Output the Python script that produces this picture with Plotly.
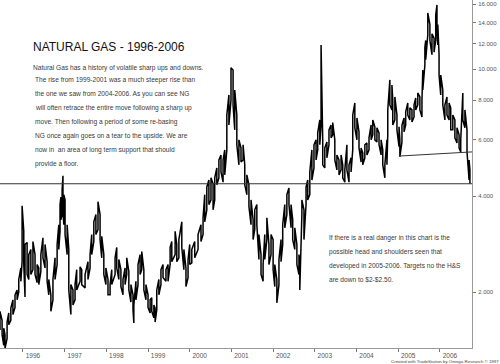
import plotly.graph_objects as go

# ---- data (decimal year, bar low, bar high) ----
YEARS = [1995.45, 1995.50, 1995.54, 1995.57, 1995.62, 1995.66, 1995.71, 1995.76, 1995.81, 1995.86,
         1995.90, 1995.95, 1995.98, 1996.02, 1996.05, 1996.10, 1996.14, 1996.19, 1996.24, 1996.29,
         1996.34, 1996.38, 1996.43, 1996.48, 1996.53, 1996.58, 1996.62, 1996.67, 1996.72, 1996.77,
         1996.82, 1996.86, 1996.89, 1996.91, 1996.94, 1996.96, 1996.98, 1997.01, 1997.06, 1997.10,
         1997.15, 1997.20, 1997.25, 1997.29, 1997.37, 1997.41, 1997.49, 1997.56, 1997.61, 1997.65,
         1997.70, 1997.75, 1997.80, 1997.85, 1997.89, 1997.94, 1997.99, 1998.04, 1998.09, 1998.13,
         1998.21, 1998.25, 1998.30, 1998.35, 1998.40, 1998.45, 1998.49, 1998.54, 1998.59, 1998.64,
         1998.66, 1998.71, 1998.76, 1998.81, 1998.85, 1998.90, 1998.95, 1999.00, 1999.05, 1999.09,
         1999.14, 1999.17, 1999.21, 1999.26, 1999.31, 1999.36, 1999.43, 1999.48, 1999.53, 1999.57,
         1999.65, 1999.69, 1999.74, 1999.81, 1999.86, 1999.91, 1999.96, 2000.00, 2000.05, 2000.12,
         2000.20, 2000.27, 2000.32, 2000.36, 2000.41, 2000.46, 2000.51, 2000.56, 2000.60, 2000.65,
         2000.70, 2000.75, 2000.80, 2000.84, 2000.89, 2000.94, 2000.99, 2001.04, 2001.08, 2001.13,
         2001.18, 2001.23, 2001.28, 2001.32, 2001.37, 2001.42, 2001.47, 2001.52, 2001.56, 2001.61,
         2001.66, 2001.71, 2001.76, 2001.80, 2001.85, 2001.90, 2001.95, 2002.00, 2002.04, 2002.09,
         2002.14, 2002.19, 2002.23, 2002.28, 2002.33, 2002.38, 2002.43, 2002.47, 2002.52, 2002.57,
         2002.62, 2002.64, 2002.69, 2002.74, 2002.79, 2002.83, 2002.88, 2002.93, 2002.98, 2003.03,
         2003.07, 2003.12, 2003.15, 2003.19, 2003.24, 2003.29, 2003.34, 2003.39, 2003.43, 2003.48,
         2003.53, 2003.58, 2003.63, 2003.67, 2003.72, 2003.77, 2003.82, 2003.87, 2003.91, 2003.96,
         2004.01, 2004.06, 2004.11, 2004.15, 2004.20, 2004.25, 2004.30, 2004.35, 2004.39, 2004.44,
         2004.49, 2004.54, 2004.59, 2004.63, 2004.68, 2004.73, 2004.75, 2004.80, 2004.85, 2004.87,
         2004.92, 2004.97, 2005.02, 2005.04, 2005.09, 2005.14, 2005.18, 2005.23, 2005.28, 2005.33,
         2005.38, 2005.42, 2005.47, 2005.52, 2005.57, 2005.59, 2005.64, 2005.66, 2005.71, 2005.76,
         2005.81, 2005.86, 2005.90, 2005.93, 2005.95, 2005.98, 2006.02, 2006.07, 2006.12, 2006.17,
         2006.22, 2006.26, 2006.31, 2006.36, 2006.41, 2006.46, 2006.50, 2006.55, 2006.60, 2006.65,
         2006.70, 2006.72]

LOWS = [1.52, 1.47, 1.36, 1.33, 1.43, 1.58, 1.63, 1.70, 1.79, 1.89,
        2.00, 2.16, 2.49, 2.44, 1.93, 2.27, 2.19, 2.27, 2.35, 2.27,
        2.14, 2.11, 2.32, 2.56, 2.38, 2.16, 1.96, 1.74, 1.89, 2.19,
        2.44, 2.72, 3.10, 3.37, 3.50, 3.57, 3.25, 3.03, 2.62, 2.03,
        1.70, 1.82, 1.89, 2.03, 2.16, 2.11, 2.06, 2.19, 2.38, 2.62,
        2.88, 3.03, 3.14, 2.92, 2.56, 2.27, 2.11, 1.96, 1.96, 2.11,
        2.27, 2.38, 2.19, 2.08, 1.96, 2.11, 2.27, 2.03, 1.86, 1.76,
        1.60, 1.89, 2.11, 2.27, 2.35, 2.03, 1.89, 1.79, 1.72, 1.74,
        1.66, 1.61, 1.76, 1.96, 2.11, 2.22, 2.16, 2.16, 2.44, 2.49,
        2.62, 2.49, 2.56, 2.76, 2.35, 2.08, 2.22, 2.44, 2.47, 2.56,
        2.72, 2.88, 3.03, 3.32, 3.62, 3.76, 3.89, 3.62, 3.89, 4.34,
        4.56, 4.76, 4.42, 4.66, 5.58, 6.68, 8.00, 7.72, 6.45, 5.79,
        5.01, 5.11, 5.19, 4.34, 4.04, 3.71, 3.25, 2.92, 3.14, 3.25,
        2.53, 2.27, 2.16, 2.53, 2.92, 2.44, 2.62, 2.35, 2.08, 1.85,
        2.11, 2.49, 2.82, 3.18, 3.50, 3.76, 3.18, 2.92, 2.72, 2.44,
        2.27, 2.03, 3.50, 2.92, 3.76, 3.89, 4.04, 4.49, 4.90, 5.19,
        5.58, 5.79, 6.68, 5.01, 4.90, 5.27, 5.79, 6.09, 6.22, 5.19,
        4.83, 4.66, 4.83, 4.56, 4.42, 4.83, 4.42, 4.76, 5.58, 6.55,
        6.00, 5.66, 5.11, 5.01, 5.27, 5.38, 5.58, 6.00, 6.22, 6.00,
        5.91, 5.79, 5.38, 5.01, 4.56, 5.01, 6.22, 7.72, 7.45, 6.68,
        6.93, 6.45, 5.71, 5.31, 5.91, 6.36, 6.68, 7.18, 6.93, 6.83,
        7.08, 7.45, 7.72, 7.45, 7.08, 8.60, 10.3, 10.7, 12.8, 12.3,
        11.1, 11.3, 12.3, 13.2, 11.9, 9.58, 8.30, 7.72, 6.93, 7.18,
        6.93, 6.45, 6.45, 6.09, 5.87, 5.66, 5.50, 6.93, 6.55, 5.50,
        4.49, 4.37]

HIGHS = [1.74, 1.63, 1.54, 1.47, 1.61, 1.72, 1.78, 1.89, 1.96, 2.03,
         2.19, 2.38, 3.73, 3.10, 2.82, 2.86, 2.62, 2.72, 2.88, 2.62,
         2.44, 2.38, 2.62, 2.96, 2.82, 2.49, 2.19, 1.96, 2.19, 2.56,
         2.82, 3.25, 3.76, 3.97, 4.18, 4.63, 4.04, 3.89, 3.25, 2.72,
         2.11, 2.03, 2.11, 2.35, 2.40, 2.35, 2.27, 2.49, 2.62, 3.03,
         3.32, 3.50, 3.84, 3.50, 2.99, 2.62, 2.38, 2.19, 2.11, 2.35,
         2.56, 2.76, 2.53, 2.35, 2.19, 2.38, 2.56, 2.32, 2.11, 1.96,
         1.82, 2.16, 2.44, 2.62, 2.68, 2.35, 2.11, 1.96, 1.89, 1.92,
         1.82, 1.78, 2.03, 2.19, 2.35, 2.44, 2.35, 2.44, 2.76, 2.88,
         3.10, 2.82, 2.92, 3.32, 2.72, 2.38, 2.53, 2.82, 2.72, 2.88,
         3.03, 3.25, 3.42, 4.04, 4.27, 4.49, 4.56, 4.37, 4.56, 4.90,
         5.19, 5.38, 5.19, 5.58, 7.18, 8.30, 10.1, 9.94, 8.60, 7.18,
         6.00, 5.66, 5.79, 5.01, 4.66, 4.34, 3.89, 3.37, 3.62, 3.76,
         3.03, 2.62, 2.44, 3.03, 3.42, 2.82, 3.03, 2.92, 2.44, 2.19,
         2.53, 2.92, 3.25, 3.76, 4.04, 4.24, 3.76, 3.37, 3.18, 2.82,
         2.62, 2.53, 3.89, 3.62, 4.27, 4.49, 4.76, 5.58, 5.79, 6.00,
         6.31, 6.93, 11.9, 6.00, 5.66, 5.91, 6.45, 6.68, 6.80, 6.00,
         5.38, 5.19, 5.38, 5.01, 4.83, 5.79, 5.01, 5.27, 7.18, 7.83,
         7.03, 6.36, 5.66, 5.46, 5.79, 5.87, 6.09, 6.68, 6.93, 6.59,
         6.55, 6.31, 6.00, 5.58, 5.01, 6.00, 7.45, 9.25, 8.92, 8.00,
         8.18, 7.18, 6.59, 6.00, 6.68, 7.03, 7.34, 7.83, 7.56, 7.45,
         7.72, 8.12, 8.42, 8.18, 8.00, 9.94, 11.7, 12.3, 15.0, 13.8,
         12.9, 12.5, 14.8, 15.9, 13.8, 11.1, 9.58, 8.60, 7.72, 8.18,
         7.83, 7.56, 7.18, 6.93, 6.55, 6.22, 6.00, 8.42, 7.45, 6.45,
         5.19, 4.83]

SUPPORT_PRICE = 4.37
NECK_YEARS = [2005.04, 2006.77]
NECK_PRICES = [5.34, 5.50]

X_TICKS = [1996, 1997, 1998, 1999, 2000, 2001, 2002, 2003, 2004, 2005, 2006]
X_LABELS = ["1996", "1997", "1998", "1999", "2000", "2001", "2002", "2003", "2004", "2005", "2006"]
Y_TICKS = [2, 4, 6, 8, 10, 12, 14, 16]
Y_LABELS = ["2.000", "4.000", "6.000", "8.000", "10.000", "12.000", "14.000", "16.000"]
X_RANGE = [1995.45, 2006.77]

TITLE = "NATURAL GAS - 1996-2006"
BODY = [
    "Natural Gas has a history of volatile sharp ups and downs.",
    "The rise from 1999-2001 was a much steeper rise than",
    "the one we saw from 2004-2006. As you can see NG",
    "will often retrace the entire move following a sharp up",
    "move. Then following a period of some re-basing",
    "NG once again goes on a tear to the upside. We are",
    "now in  an area of long term support that should",
    "provide a floor.",
]
NOTE = [
    "If there is a real danger in this chart is the",
    "possible head and shoulders seen that",
    "developed in 2005-2006. Targets no the H&S",
    "are down to $2-$2.50.",
]
FOOTER = "Created with TradeStation by Omega Research \u00a9 1997"

# ---- build the zig-zag bar path (low->high, high->low alternating) ----
xs, ys = [], []
for i, (yr, lo, hi) in enumerate(zip(YEARS, LOWS, HIGHS)):
    xs += [yr, yr]
    ys += [lo, hi] if i % 2 == 0 else [hi, lo]

fig = go.Figure()
fig.add_trace(go.Scatter(x=xs, y=ys, mode="lines",
                         line=dict(color="#000000", width=1.5),
                         hoverinfo="skip", showlegend=False))
fig.add_trace(go.Scatter(x=X_RANGE, y=[SUPPORT_PRICE, SUPPORT_PRICE], mode="lines",
                         line=dict(color="#333333", width=1), showlegend=False))
fig.add_trace(go.Scatter(x=NECK_YEARS, y=NECK_PRICES, mode="lines",
                         line=dict(color="#333333", width=1), showlegend=False))

W_PLOT, H_PLOT = 472, 348


def px(x):
    return x / W_PLOT


def py(y):
    return 1 - y / H_PLOT


FONT = "Liberation Sans, Arial"
ann = [dict(text=TITLE, x=px(31), y=py(47), xref="paper", yref="paper",
            xanchor="left", yanchor="middle", showarrow=False,
            font=dict(family=FONT, size=12, color="#111111"))]
body_y = [68, 80, 94, 108, 122, 136, 150, 164]
for i, (line, yy) in enumerate(zip(BODY, body_y)):
    ann.append(dict(text=line, x=px(31 if i == 0 else 33), y=py(yy), xref="paper", yref="paper",
                    xanchor="left", yanchor="middle", showarrow=False,
                    font=dict(family=FONT, size=6.6, color="#3a3a3a")))
note_y = [238, 252, 266, 279]
for line, yy in zip(NOTE, note_y):
    ann.append(dict(text=line, x=px(327), y=py(yy), xref="paper", yref="paper",
                    xanchor="left", yanchor="middle", showarrow=False,
                    font=dict(family=FONT, size=6.6, color="#3a3a3a")))
ann.append(dict(text=FOOTER, x=px(500), y=py(361.5), xref="paper", yref="paper",
                xanchor="right", yanchor="middle", showarrow=False, borderpad=0,
                font=dict(family=FONT, size=4.4, color="#444444")))

fig.update_layout(
    width=500, height=364,
    margin=dict(l=0, r=28, t=0, b=16, pad=0),
    paper_bgcolor="white", plot_bgcolor="white",
    showlegend=False,
    annotations=ann,
    xaxis=dict(range=X_RANGE, tickvals=X_TICKS, ticktext=X_LABELS,
               ticks="outside", ticklen=3, tickcolor="#777777", tickwidth=1,
               showline=True, linecolor="#999999", linewidth=1,
               showgrid=False, zeroline=False, ticklabelshift=10, ticklabelstandoff=-2,
               tickfont=dict(family=FONT, size=6.5, color="#555555")),
    yaxis=dict(type="log", range=[0.1255, 1.2167], side="right",
               tickvals=Y_TICKS, ticktext=Y_LABELS,
               ticks="outside", ticklen=3, tickcolor="#777777", tickwidth=1,
               showline=True, linecolor="#999999", linewidth=1,
               showgrid=False, zeroline=False, ticklabelstandoff=1,
               tickfont=dict(family=FONT, size=6, color="#555555")),
)

fig.write_html("out.html", config={"displayModeBar": False},
               post_script="document.body.style.margin='0';document.body.style.padding='0';")
